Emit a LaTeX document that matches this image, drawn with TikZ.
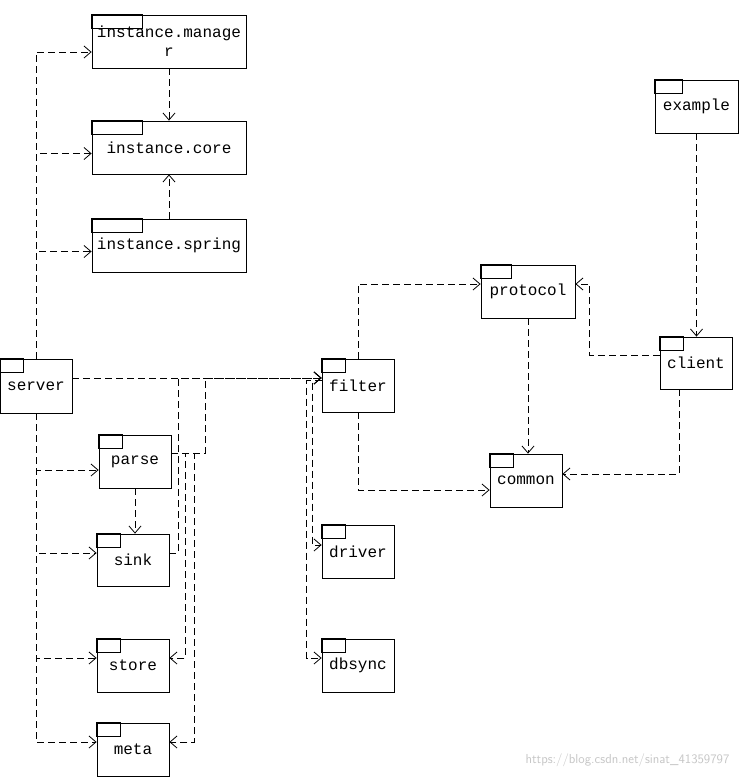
\documentclass[tikz,border=0pt]{standalone}
\usepackage{fontspec}
\setmainfont{Liberation Mono}
\usetikzlibrary{arrows.meta}
\begin{document}
\begin{tikzpicture}[x=1pt,y=-1pt,
  pkg/.style={draw,line width=0.8pt,inner sep=0pt,align=center,font=\fontsize{16}{19}\selectfont},
  dep/.style={draw,line width=0.8pt,dash pattern=on 7pt off 4pt,-{Straight Barb[length=7pt,width=12pt]}}]
\useasboundingbox[fill=white] (0,0) rectangle (739,777);
\newcommand\pk[7]{%
  \node[pkg,minimum width={#4-#2},minimum height={#5-#3}] (#1) at ({(#2+#4)/2},{(#3+#5)/2}) {#7};
  \draw[line width=0.8pt] (#1.north west) rectangle ++(#6,14);}
\pk{im}{92}{15}{246}{68}{51}{instance.manage\\r}
\pk{core}{92}{121}{246}{174}{51}{instance.core}
\pk{spring}{92}{219}{246}{272}{51}{instance.spring}
\pk{server}{0}{359}{72}{413}{24}{server}
\pk{parse}{99}{435}{171}{488}{24}{parse}
\pk{sink}{97}{534}{169}{586}{24}{sink}
\pk{store}{97}{639}{169}{692}{24}{store}
\pk{meta}{97}{723}{169}{776}{24}{meta}
\pk{filter}{322}{359}{394}{412}{24}{filter}
\pk{driver}{322}{525}{394}{578}{24}{driver}
\pk{dbsync}{322}{639}{394}{692}{24}{dbsync}
\pk{protocol}{481}{265}{575}{318}{31}{protocol}
\pk{common}{490}{454}{562}{507}{24}{common}
\pk{client}{660}{337}{732}{389}{24}{client}
\pk{example}{655}{80}{738}{133}{28}{example}
% server to instance
\draw[dep] (server.north) |- ([yshift=-10.5pt]im.west);
\draw[dep] (server.north) |- ([yshift=-6pt]core.west);
\draw[dep] (server.north) |- ([yshift=-6pt]spring.west);
\draw[dep] (im.south) -- (core.north);
\draw[dep] (spring.north) -- (core.south);
% server down
\draw[dep] (server.south) |- ([yshift=-8.5pt]parse.west);
\draw[dep] (server.south) |- ([yshift=7pt]sink.west);
\draw[dep] (server.south) |- ([yshift=7.5pt]store.west);
\draw[dep] (server.south) |- ([yshift=7.5pt]meta.west);
\draw[dep] (parse.south) -- (parse.south |- sink.north);
% to filter
\draw[dep] ([yshift=8pt]server.east) -- ([yshift=7.5pt]filter.west);
\draw[dep] ([yshift=8.5pt]parse.east) -- ++(34,0) |- ([yshift=7.5pt]filter.west);
\draw[dep] ([yshift=7pt]sink.east) -- ++(9,0) |- ([yshift=7.5pt]filter.west);
\draw[dep] ([yshift=8.5pt]parse.east) -- ++(14,0) |- ([yshift=7.5pt]store.east);
\draw[dep] ([yshift=8.5pt]parse.east) -- ++(23,0) |- ([yshift=7.5pt]meta.east);
\draw[dep] ([yshift=5pt]filter.west) -- ++(-9,0) |- ([yshift=6.5pt]driver.west);
\draw[dep] ([yshift=5pt]filter.west) -- ++(-15,0) |- ([yshift=7.5pt]dbsync.west);
% right part
\draw[dep] (filter.north) |- ([yshift=7.5pt]protocol.west);
\draw[dep] (filter.south) |- ([yshift=-9.5pt]common.west);
\draw[dep] (protocol.south) -- (protocol.south |- common.north);
\draw[dep] ([yshift=8pt]client.west) -- ++(-70,0) |- ([yshift=7.5pt]protocol.east);
\draw[dep] ([xshift=-17pt]client.south) |- ([yshift=6.5pt]common.east);
\draw[dep] (example.south) -- (example.south |- client.north);
\node[text=gray!45,font=\fontfamily{lmss}\fontsize{13}{15}\selectfont,anchor=east] (wm) at (733,760) {https://blog.csdn.net/sinat\_41359797};
\end{tikzpicture}
\end{document}
